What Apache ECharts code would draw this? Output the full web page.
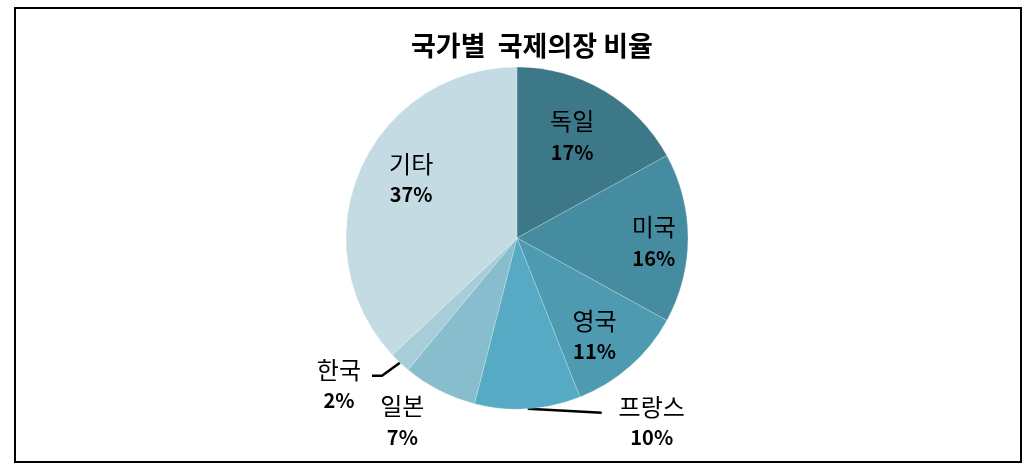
<!DOCTYPE html>
<html>
<head>
<meta charset="utf-8">
<script src="https://cdn.jsdelivr.net/npm/echarts@6/dist/echarts.min.js"></script>
<style>
  html, body { margin: 0; padding: 0; background: #ffffff; }
  #chart { width: 1030px; height: 466px; }
</style>
</head>
<body>
<div id="chart"></div>
<script>
// ---- data ----
const titleText = '국가별  국제의장 비율';
const countries = ['독일', '미국', '영국', '프랑스', '일본', '한국', '기타'];
const shares = [17, 16, 11, 10, 7, 2, 37];
const sliceColors = ['#3d7888', '#458ca0', '#4e9bb1', '#56aac4', '#88bdcd', '#a7cdd9', '#c4dbe4'];

// ---- layout / style config ----
const CX = 517, CY = 238, R = 171;
// per-slice label placement: radial fraction of radius, extra offset of label centre
const labelPlace = [
  { f: 0.68, off: [-4, -2], inside: true },
  { f: 0.80, off: [0, 4], inside: true },
  { f: 0.73, off: [-5, 4], inside: true },
  { f: 1.00, off: [124, 13], inside: false, line: [[37, 2], [74, 4]] },
  { f: 1.00, off: [-37, 31], inside: false },
  { f: 1.00, off: [-61, 22], inside: false, line: [[-18, 13], [-28, 13]] },
  { f: 0.70, off: [4, -12], inside: true }
];

const total = shares.reduce((a, b) => a + b, 0);
function midAngle(i) {
  let before = 0;
  for (let k = 0; k < i; k++) before += shares[k];
  const mid = before + shares[i] / 2;
  return Math.PI / 2 - mid / total * 2 * Math.PI;
}
function edgePoint(i, f) {
  const a = midAngle(i);
  return [CX + f * R * Math.cos(a), CY - f * R * Math.sin(a)];
}

const data = countries.map((name, i) => {
  const p = labelPlace[i];
  return {
    name: name,
    value: shares[i],
    itemStyle: { color: sliceColors[i] },
    label: { position: p.inside ? 'inside' : 'outside' },
    labelLine: { show: !!p.line, lineStyle: { color: '#000', width: 2.5 } }
  };
});

const chart = echarts.init(document.getElementById('chart'), null, { renderer: 'canvas' });
chart.setOption({
  animation: false,
  backgroundColor: '#ffffff',
  title: {
    text: titleText,
    left: 406,
    top: 27,
    textStyle: {
      fontFamily: '"Noto Sans CJK KR", sans-serif',
      fontSize: 27,
      fontWeight: 'bold',
      color: '#000'
    }
  },
  graphic: [{
    type: 'rect',
    shape: { x: 15, y: 8, width: 1006, height: 454 },
    style: { fill: 'none', stroke: '#000', lineWidth: 2 },
    silent: true,
    z: 10
  }],
  series: [{
    type: 'pie',
    center: [CX, CY],
    radius: R,
    startAngle: 90,
    clockwise: true,
    avoidLabelOverlap: false,
    itemStyle: { borderColor: 'rgba(255,255,255,0.35)', borderWidth: 0.6 },
    label: {
      show: true,
      color: '#000',
      formatter: function (p) { return '{n|' + p.name + '}\n{p|' + p.value + '%}'; },
      rich: {
        n: { fontFamily: '"Noto Sans CJK KR", sans-serif', fontSize: 24, fontWeight: 'normal', color: '#000', lineHeight: 32, align: 'center' },
        p: { fontFamily: '"Noto Sans CJK KR", sans-serif', fontSize: 20, fontWeight: 'bold', color: '#000', lineHeight: 30, align: 'center' }
      }
    },
    labelLine: { show: false },
    labelLayout: function (params) {
      const i = params.dataIndex;
      const p = labelPlace[i];
      const pt = edgePoint(i, p.f);
      const res = {
        x: pt[0] + p.off[0],
        y: pt[1] + p.off[1],
        align: 'center',
        verticalAlign: 'middle'
      };
      if (p.line) {
        const e = edgePoint(i, 1);
        res.labelLinePoints = [
          [e[0], e[1]],
          [e[0] + p.line[0][0], e[1] + p.line[0][1]],
          [e[0] + p.line[1][0], e[1] + p.line[1][1]]
        ];
      }
      return res;
    },
    data: data
  }]
});
</script>
</body>
</html>
